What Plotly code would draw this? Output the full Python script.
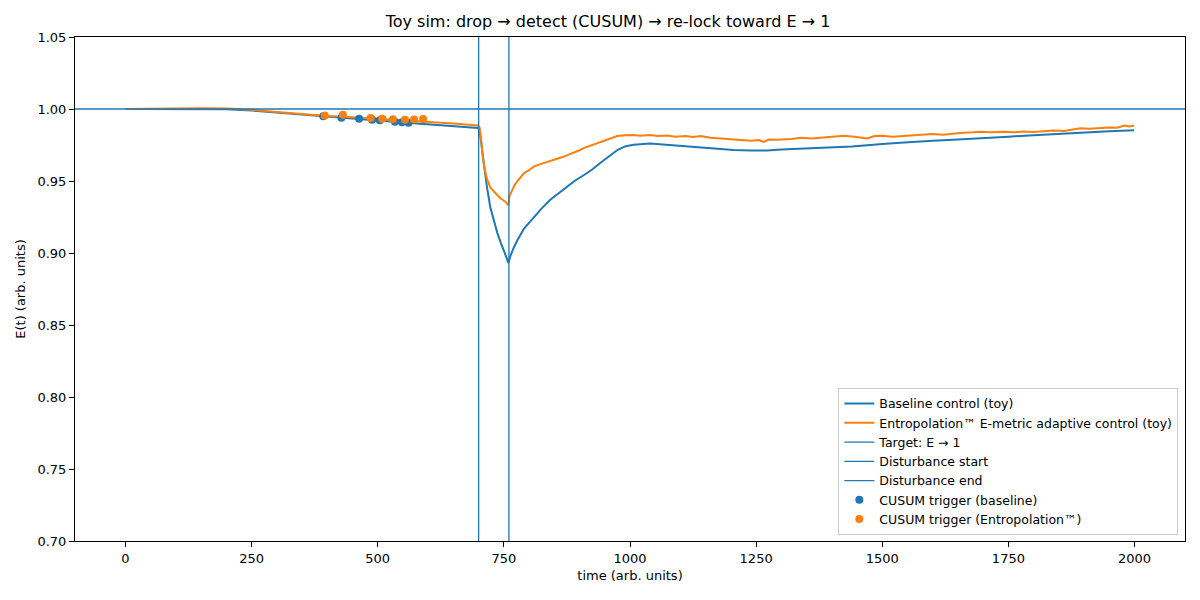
import plotly.graph_objects as go

# ---- data ----
t_base = [0, 50, 100, 150, 200, 250, 300, 350, 400, 450, 500, 550, 600, 650, 699,
          702, 706, 710, 716, 723, 730, 737, 744, 750, 755, 759,
          763, 770, 777, 790, 809, 825, 842, 860, 876, 890, 908, 925, 941, 960, 975,
          990, 1007, 1040, 1070, 1107, 1140, 1170, 1205, 1240, 1272, 1300, 1340, 1370,
          1404, 1440, 1470, 1500, 1536, 1570, 1600, 1650, 1700, 1750, 1800, 1850, 1900,
          1950, 1999]
e_base = [1.0000, 1.0000, 1.0000, 1.0000, 0.9998, 0.9990, 0.9975, 0.9960, 0.9945, 0.9935,
          0.9920, 0.9907, 0.9895, 0.9882, 0.9868,
          0.9850, 0.9740, 0.9600, 0.9470, 0.9320, 0.9220, 0.9140, 0.9070, 0.9020, 0.8970, 0.8930,
          0.8980, 0.9040, 0.9090, 0.9170, 0.9250, 0.9310, 0.9370, 0.9420, 0.9460, 0.9500,
          0.9540, 0.9580, 0.9625, 0.9675, 0.9715,
          0.9740, 0.9752, 0.9760, 0.9752, 0.9737, 0.9730, 0.9722, 0.9715, 0.9712, 0.9712,
          0.9718, 0.9726, 0.9730, 0.9735, 0.9740, 0.9750, 0.9757, 0.9766, 0.9775, 0.9780,
          0.9788, 0.9796, 0.9808, 0.9818, 0.9828, 0.9836, 0.9846, 0.9852]

t_ent = [0, 50, 100, 150, 200, 250, 300, 350, 400, 450, 500, 550, 600, 650, 699,
         702, 705, 708, 712, 717, 723, 733, 743, 753, 759,
         761, 765, 771, 777, 784, 790, 800, 809, 818, 825, 834, 842, 851, 860, 868, 876,
         884, 890, 899, 908, 916, 925, 933, 941, 950, 960, 968, 975, 990, 1007, 1020,
         1040, 1055, 1074, 1090, 1110, 1125, 1140, 1160, 1180, 1200, 1220, 1240, 1255,
         1265, 1275, 1290, 1320, 1338, 1360, 1380, 1400, 1424, 1445, 1470, 1485, 1500,
         1520, 1540, 1560, 1582, 1600, 1620, 1640, 1660, 1680, 1695, 1715, 1740, 1760,
         1780, 1800, 1820, 1840, 1860, 1880, 1893, 1910, 1930, 1950, 1965, 1980, 1990, 1999]
e_ent = [1.0000, 1.0003, 1.0006, 1.0006, 1.0003, 0.9995, 0.9980, 0.9965, 0.9952, 0.9942,
         0.9932, 0.9922, 0.9913, 0.9900, 0.9885,
         0.9870, 0.9787, 0.9670, 0.9580, 0.9510, 0.9456, 0.9415, 0.9380, 0.9356, 0.9330,
         0.9395, 0.9430, 0.9470, 0.9500, 0.9530, 0.9555, 0.9575, 0.9600, 0.9612, 0.9620,
         0.9628, 0.9635, 0.9648, 0.9660, 0.9668, 0.9680, 0.9690, 0.9700, 0.9712, 0.9728,
         0.9738, 0.9750, 0.9758, 0.9770, 0.9782, 0.9793, 0.9805, 0.9812, 0.9818, 0.9820,
         0.9815, 0.9820, 0.9812, 0.9816, 0.9808, 0.9812, 0.9805, 0.9812, 0.9800, 0.9795,
         0.9790, 0.9782, 0.9780, 0.9785, 0.9772, 0.9788, 0.9786, 0.9792, 0.9800, 0.9796,
         0.9802, 0.9806, 0.9815, 0.9808, 0.9796, 0.9812, 0.9815, 0.9808, 0.9812, 0.9818,
         0.9820, 0.9826, 0.9822, 0.9830, 0.9835, 0.9838, 0.9842, 0.9838, 0.9842, 0.9838,
         0.9843, 0.9840, 0.9846, 0.9850, 0.9848, 0.9856, 0.9866, 0.9862, 0.9868, 0.9872,
         0.9870, 0.9885, 0.9878, 0.9885]

cusum_base_t = [392, 428, 463, 489, 504, 534, 548, 561]
cusum_base_e = [0.9950, 0.9940, 0.9932, 0.9926, 0.9922, 0.9912, 0.9908, 0.9905]
cusum_ent_t = [395, 431, 486, 509, 530, 554, 572, 590]
cusum_ent_e = [0.9955, 0.9960, 0.9938, 0.9932, 0.9928, 0.9925, 0.9927, 0.9930]

TARGET = 1.0
DIST_START = 700
DIST_END = 760
X_RANGE = [-100, 2100]
Y_RANGE = [0.70, 1.05]
x_ticks = [0, 250, 500, 750, 1000, 1250, 1500, 1750, 2000]
y_ticks = [0.70, 0.75, 0.80, 0.85, 0.90, 0.95, 1.00, 1.05]

BLUE = "#1f77b4"
ORANGE = "#ff7f0e"

fig = go.Figure()
fig.add_trace(go.Scatter(x=t_base, y=e_base, mode="lines", name="Baseline control (toy)",
                         line=dict(color=BLUE, width=2)))
fig.add_trace(go.Scatter(x=t_ent, y=e_ent, mode="lines",
                         name="Entropolation™ E-metric adaptive control (toy)",
                         line=dict(color=ORANGE, width=2)))
fig.add_trace(go.Scatter(x=X_RANGE, y=[TARGET, TARGET], mode="lines", name="Target: E → 1",
                         line=dict(color=BLUE, width=1.3)))
fig.add_trace(go.Scatter(x=[DIST_START, DIST_START], y=Y_RANGE, mode="lines",
                         name="Disturbance start", line=dict(color=BLUE, width=1.3)))
fig.add_trace(go.Scatter(x=[DIST_END, DIST_END], y=Y_RANGE, mode="lines",
                         name="Disturbance end", line=dict(color=BLUE, width=1.3)))
fig.add_trace(go.Scatter(x=cusum_base_t, y=cusum_base_e, mode="markers",
                         name="CUSUM trigger (baseline)",
                         marker=dict(color=BLUE, size=8)))
fig.add_trace(go.Scatter(x=cusum_ent_t, y=cusum_ent_e, mode="markers",
                         name="CUSUM trigger (Entropolation™)",
                         marker=dict(color=ORANGE, size=8)))

axis_common = dict(showgrid=False, zeroline=False, showline=True, linecolor="black",
                   linewidth=1, mirror=True, ticks="outside", ticklen=5, tickwidth=1,
                   tickcolor="black", tickfont=dict(size=13, color="black"),
                   automargin=False)

fig.update_layout(
    width=1200, height=600,
    margin=dict(l=67, r=23, t=29, b=67),
    paper_bgcolor="white", plot_bgcolor="white",
    font=dict(family="DejaVu Sans", size=13, color="black"),
    title=dict(text="Toy sim: drop → detect (CUSUM) → re-lock toward E → 1",
               x=0.5, xanchor="center", y=1 - 13 / 600, yanchor="middle",
               font=dict(size=16, color="black")),
    xaxis=dict(range=X_RANGE, tickvals=x_ticks,
               title=dict(text="time (arb. units)", font=dict(size=13), standoff=6),
               **axis_common),
    yaxis=dict(range=Y_RANGE, tickvals=y_ticks, tickformat=".2f",
               title=dict(text="E(t) (arb. units)", font=dict(size=13), standoff=8),
               **axis_common),
    legend=dict(x=0.994, xanchor="right", y=0.012, yanchor="bottom",
                bgcolor="rgba(255,255,255,0.85)", bordercolor="#cccccc", borderwidth=1,
                font=dict(size=12.5), tracegroupgap=0),
    showlegend=True,
)

fig.write_html("out.html")
